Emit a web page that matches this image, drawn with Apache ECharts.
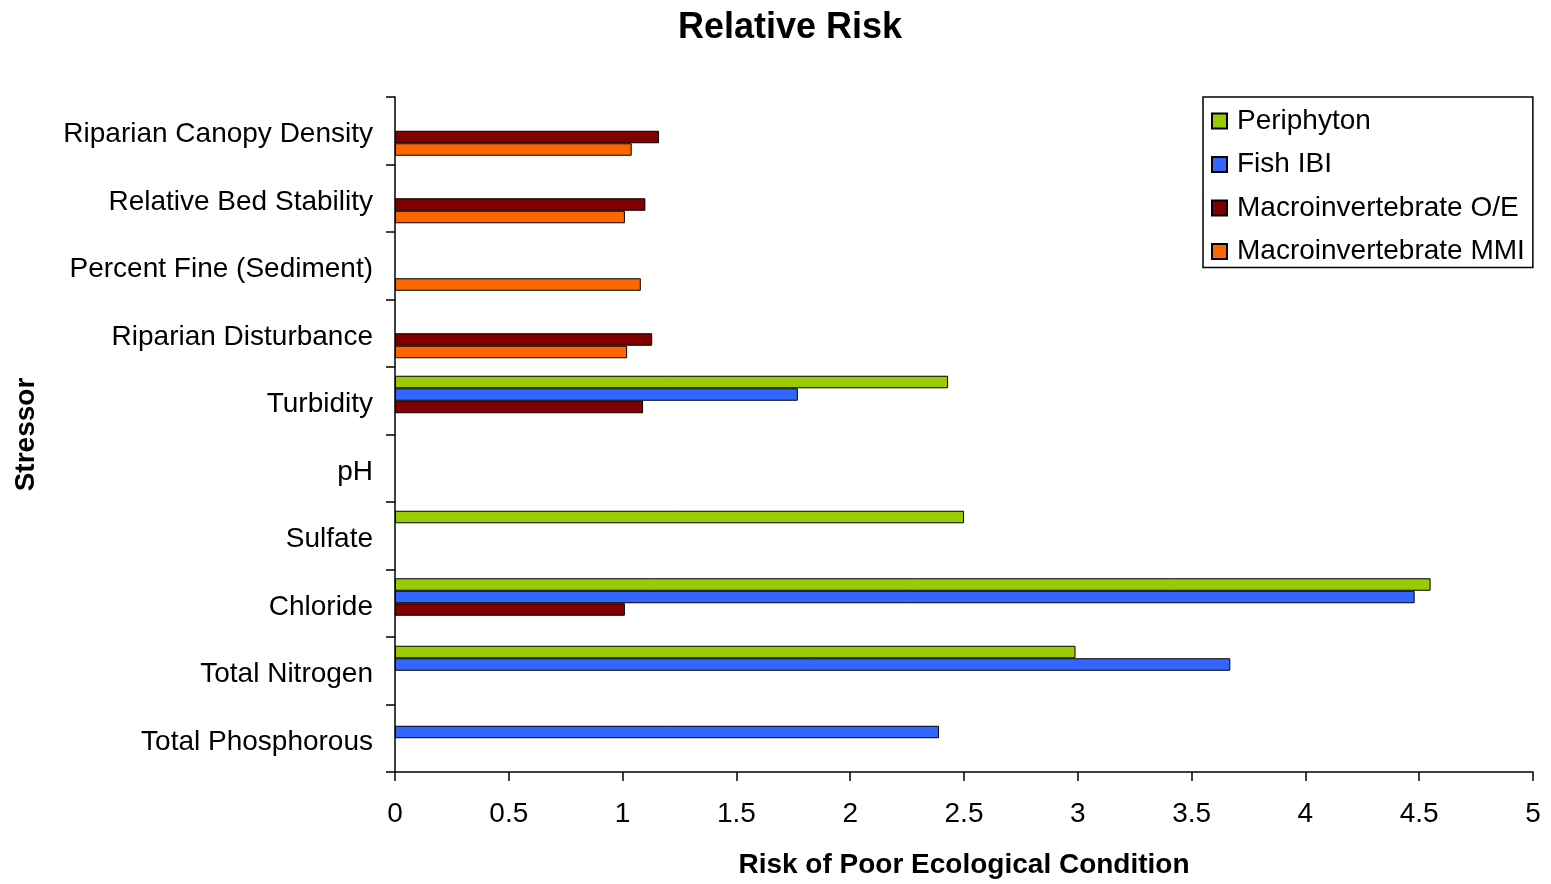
<!DOCTYPE html>
<html>
<head>
<meta charset="utf-8">
<script src="https://cdn.jsdelivr.net/npm/echarts@6/dist/echarts.min.js"></script>
<style>html,body{margin:0;padding:0;background:#fff;}#c{width:1551px;height:884px;}</style>
</head>
<body>
<div id="c"></div>
<script>
const categories = ['Total Phosphorous', 'Total Nitrogen', 'Chloride', 'Sulfate', 'pH', 'Turbidity', 'Riparian Disturbance', 'Percent Fine (Sediment)', 'Relative Bed Stability', 'Riparian Canopy Density'];
const periphyton = [null, 2.99, 4.55, 2.50, null, 2.43, null, null, null, null];
const fishIBI = [2.39, 3.67, 4.48, null, null, 1.77, null, null, null, null];
const macroOE = [null, null, 1.01, null, null, 1.09, 1.13, null, 1.10, 1.16];
const macroMMI = [null, null, null, null, null, null, 1.02, 1.08, 1.01, 1.04];
const xTicks = [0, 0.5, 1, 1.5, 2, 2.5, 3, 3.5, 4, 4.5, 5];

const FONT = 'Liberation Sans';
const chart = echarts.init(document.getElementById('c'));
function s(name, data, color) {
  return {
    name: name, type: 'bar', data: data, barWidth: 12.5, barGap: '0%',
    itemStyle: { color: color, borderColor: '#000', borderWidth: 1 },
    emphasis: { disabled: true }
  };
}
chart.setOption({
  animation: false,
  textStyle: { fontFamily: FONT },
  title: {
    text: 'Relative Risk', left: 673, top: 5,
    textStyle: { fontFamily: FONT, fontSize: 36, fontWeight: 'bold', color: '#000' }
  },
  legend: {
    orient: 'vertical', left: 1203, top: 97,
    data: ['Periphyton', 'Fish IBI', 'Macroinvertebrate O/E', 'Macroinvertebrate MMI'],
    itemWidth: 15, itemHeight: 15, itemGap: 15.5, padding: [10, 8, 2, 8],
    borderColor: '#000', borderWidth: 1.5, borderRadius: 0,
    icon: 'rect',
    textStyle: { fontFamily: FONT, fontSize: 28, color: '#000', padding: [0, 0, 0, 5] }
  },
  grid: { left: 395, right: 18, top: 97, bottom: 111, containLabel: false },
  xAxis: {
    type: 'value', min: 0, max: 5, interval: 0.5,
    name: 'Risk of Poor Ecological Condition', nameLocation: 'middle', nameGap: 79,
    nameTextStyle: { fontFamily: FONT, fontSize: 28, fontWeight: 'bold', color: '#000' },
    axisLine: { show: true, lineStyle: { color: '#000', width: 1.5 } },
    axisTick: { show: true, length: 9, lineStyle: { color: '#000', width: 1.5 } },
    axisLabel: { margin: 28, fontFamily: FONT, fontSize: 28, color: '#000',
      formatter: v => xTicks.indexOf(v) >= 0 ? String(v) : '' },
    splitLine: { show: false }
  },
  yAxis: {
    type: 'category', data: categories,
    name: 'Stressor', nameLocation: 'middle', nameGap: 355, nameRotate: 90,
    nameTextStyle: { fontFamily: FONT, fontSize: 28, fontWeight: 'bold', color: '#000' },
    axisLine: { show: true, lineStyle: { color: '#000', width: 1.5 } },
    axisTick: { show: true, length: 9, lineStyle: { color: '#000', width: 1.5 } },
    axisLabel: { margin: 22, fontFamily: FONT, fontSize: 28, color: '#000',
      verticalAlign: 'top', lineHeight: 8 }
  },
  series: [
    s('Periphyton', periphyton, '#99CC00'),
    s('Fish IBI', fishIBI, '#3366FF'),
    s('Macroinvertebrate O/E', macroOE, '#800000'),
    s('Macroinvertebrate MMI', macroMMI, '#FF6600')
  ]
});
</script>
</body>
</html>
